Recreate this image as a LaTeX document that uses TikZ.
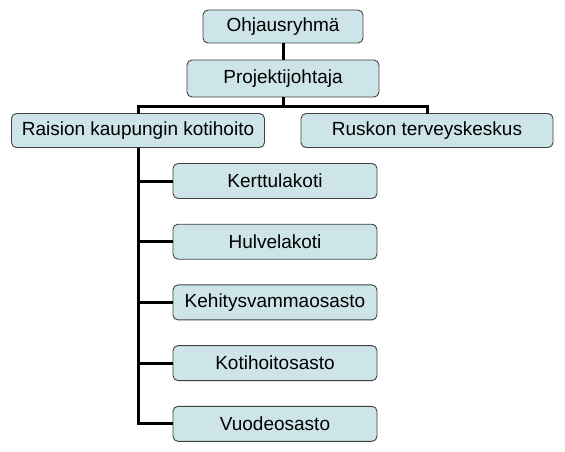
\documentclass[tikz,border=0pt]{standalone}
\usepackage{fontspec}
\setmainfont{Liberation Sans}
\usetikzlibrary{positioning}
\definecolor{boxfill}{RGB}{205,229,233}
\begin{document}
\begin{tikzpicture}[
  x=1pt,y=-1pt,
  node distance=25.7pt,
  box/.style={draw=black!75,line width=0.9pt,rounded corners=5pt,fill=boxfill,minimum height=35pt,inner sep=0pt,outer sep=0pt,font=\fontsize{19}{23}\selectfont},
  unit/.style={box,minimum width=204pt},
  link/.style={line width=3pt}]
  \useasboundingbox (0,0) rectangle (565,452);
  \node[box,minimum width=160pt,minimum height=33pt] (ohj) at (283,26.5) {Ohjausryhmä};
  \node[box,minimum width=192pt,minimum height=37pt,below=17pt of ohj] (proj) {Projektijohtaja};
  \node[box,minimum width=253pt,minimum height=34pt] (rais) at (138,130.5) {Raision kaupungin kotihoito};
  \node[box,minimum width=252pt,minimum height=34pt] (rusk) at (427,130.5) {Ruskon terveyskeskus};
  \node[unit] (kert) at (275,181) {Kerttulakoti};
  \node[unit,below=of kert] (hulv) {Hulvelakoti};
  \node[unit,below=of hulv] (kehi) {Kehitysvammaosasto};
  \node[unit,below=of kehi] (koti) {Kotihoitosasto};
  \node[unit,below=of koti] (vuod) {Vuodeosasto};
  \draw[link] (ohj) -- (proj);
  \draw[link] (proj.south) -- ++(0,9) -| (rais.north);
  \draw[link] (proj.south) -- ++(0,9) -| (rusk.north);
  \foreach \u in {kert,hulv,kehi,koti,vuod}
    \draw[link] (rais.south) |- (\u.west);
\end{tikzpicture}
\end{document}
